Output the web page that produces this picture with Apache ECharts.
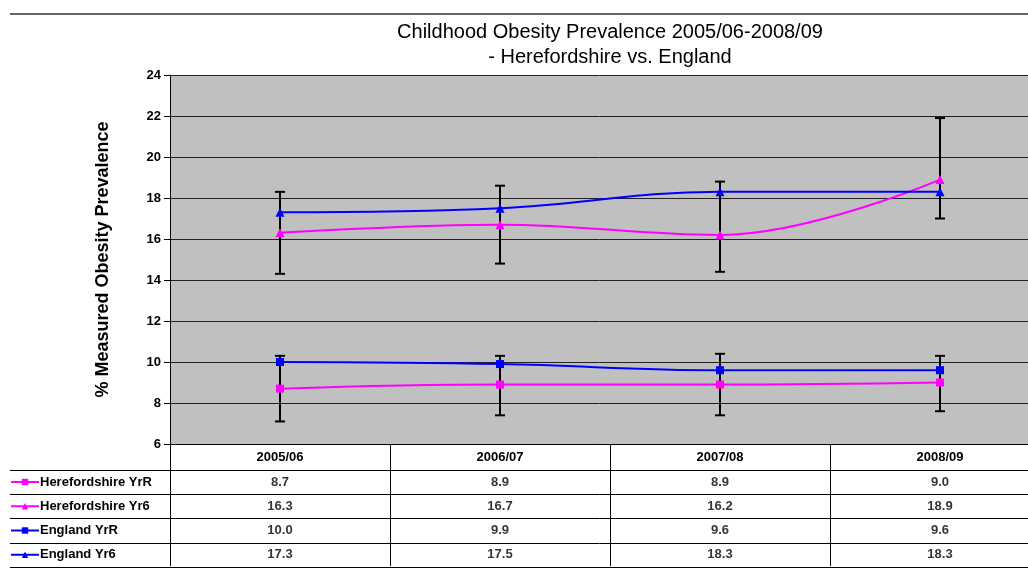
<!DOCTYPE html>
<html>
<head>
<meta charset="utf-8">
<script src="https://cdn.jsdelivr.net/npm/echarts@6/dist/echarts.min.js"></script>
<style>html,body{margin:0;padding:0;background:#fff}#c{width:1028px;height:570px}</style>
</head>
<body>
<div id="c"></div>
<script>
const categories = ['2005/06', '2006/07', '2007/08', '2008/09'];
const seriesNames = ['Herefordshire YrR', 'Herefordshire Yr6', 'England YrR', 'England Yr6'];
const herefordYrR = [8.7, 8.9, 8.9, 9.0];
const herefordYr6 = [16.3, 16.7, 16.2, 18.9];
const englandYrR = [10.0, 9.9, 9.6, 9.6];
const englandYr6 = [17.3, 17.5, 18.3, 18.3];
const herefordYrRLow = [7.1, 7.4, 7.4, 7.6];
const herefordYrRHigh = [10.3, 10.3, 10.4, 10.3];
const herefordYr6Low = [14.3, 14.8, 14.4, 17.0];
const herefordYr6High = [18.3, 18.6, 18.8, 21.9];
const yTicks = {min: 6, max: 24, interval: 2};

const FONT = 'Arial, "Liberation Sans", sans-serif';
const MAG = '#FF00FF', BLUE = '#0000FF';
const allValues = [herefordYrR, herefordYr6, englandYrR, englandYr6];
const colors = [MAG, MAG, BLUE, BLUE];
const symbols = ['rect', 'triangle', 'rect', 'triangle'];

const errData = [];
categories.forEach((c, i) => {
  errData.push([i, herefordYrRLow[i], herefordYrRHigh[i]]);
  errData.push([i, herefordYr6Low[i], herefordYr6High[i]]);
});

const tableData = [];
allValues.forEach((vals, r) => vals.forEach((v, c) => tableData.push([c, r, v])));

function renderErr(params, api) {
  const x = api.value(0);
  const lo = api.coord([x, api.value(1)]);
  const hi = api.coord([x, api.value(2)]);
  const w = 5;
  const st = {stroke: '#000', lineWidth: 2};
  return {type: 'group', children: [
    {type: 'line', shape: {x1: lo[0], y1: lo[1], x2: hi[0], y2: hi[1]}, style: st},
    {type: 'line', shape: {x1: lo[0] - w, y1: lo[1], x2: lo[0] + w, y2: lo[1]}, style: st},
    {type: 'line', shape: {x1: hi[0] - w, y1: hi[1], x2: hi[0] + w, y2: hi[1]}, style: st}
  ]};
}

const chart = echarts.init(document.getElementById('c'), null, {renderer: 'canvas'});
chart.setOption({
  backgroundColor: '#fff',
  animation: false,
  title: {
    text: 'Childhood Obesity Prevalence 2005/06-2008/09\n- Herefordshire vs. England',
    left: 605, top: 15, textAlign: 'center',
    textStyle: {fontFamily: FONT, fontSize: 20, fontWeight: 'normal', color: '#000', lineHeight: 25}
  },
  graphic: [{
    type: 'line', shape: {x1: 10, y1: 14, x2: 1028, y2: 14},
    style: {stroke: '#666', lineWidth: 2}
  }],
  legend: {
    data: seriesNames,
    orient: 'vertical', left: 10, top: 475, padding: 0,
    itemWidth: 28, itemHeight: 8, itemGap: 10.25,
    textStyle: {fontFamily: FONT, fontSize: 13, fontWeight: 'bold', color: '#000', lineHeight: 14, padding: [0, 0, 0, -4]},
    selectedMode: false
  },
  grid: [
    {left: 170, right: -22, top: 75, bottom: 126, outerBoundsMode: 'none', containLabel: false,
     backgroundColor: '#C0C0C0', show: true, borderWidth: 0},
    {left: 170, right: -22, top: 470, bottom: 3, outerBoundsMode: 'none', containLabel: false}
  ],
  xAxis: [
    {
      type: 'category', gridIndex: 0, data: categories, boundaryGap: true,
      axisLine: {lineStyle: {color: '#000', width: 1}},
      axisTick: {show: true, length: 122, interval: 0, lineStyle: {color: '#000'}},
      axisLabel: {fontFamily: FONT, fontSize: 13, fontWeight: 'bold', color: '#000', margin: 7, interval: 0},
      splitLine: {show: false}
    },
    {
      type: 'category', gridIndex: 1, data: categories, position: 'top',
      axisLine: {show: true, lineStyle: {color: '#000'}}, axisTick: {show: false}, axisLabel: {show: false}
    },
    {
      type: 'category', gridIndex: 1, data: categories, position: 'bottom',
      axisLine: {show: true, lineStyle: {color: '#000'}}, axisTick: {show: false}, axisLabel: {show: false}
    }
  ],
  yAxis: [
    {
      type: 'value', gridIndex: 0, min: yTicks.min, max: yTicks.max, interval: yTicks.interval,
      name: '% Measured Obesity Prevalence', nameLocation: 'middle', nameGap: 58,
      nameTextStyle: {fontFamily: FONT, fontSize: 18, fontWeight: 'bold', color: '#000'},
      axisLine: {show: true, lineStyle: {color: '#000', width: 1}},
      axisTick: {show: true, length: 6, lineStyle: {color: '#000'}},
      axisLabel: {fontFamily: FONT, fontSize: 13, fontWeight: 'bold', color: '#000', margin: 9},
      splitLine: {show: true, lineStyle: {color: '#222', width: 1}}
    },
    {
      type: 'category', gridIndex: 1, data: seriesNames, inverse: true,
      axisLine: {show: false},
      axisTick: {show: true, length: 160, interval: 0, lineStyle: {color: '#000'}},
      axisLabel: {show: false},
      splitLine: {show: true, interval: 0, lineStyle: {color: '#000'}}
    }
  ],
  series: [
    {
      name: 'errors', type: 'custom', xAxisIndex: 0, yAxisIndex: 0,
      renderItem: renderErr, data: errData, z: 1, silent: true
    },
    ...seriesNames.map((n, k) => ({
      name: n, type: 'line', xAxisIndex: 0, yAxisIndex: 0,
      data: allValues[k], smooth: 0.4,
      symbol: symbols[k], symbolSize: symbols[k] === 'rect' ? 8 : 9, showSymbol: true,
      itemStyle: {color: colors[k]},
      lineStyle: {color: colors[k], width: 2},
      z: 3
    })),
    {
      name: 'table', type: 'scatter', xAxisIndex: 1, yAxisIndex: 1,
      data: tableData, symbolSize: 1, itemStyle: {color: 'rgba(0,0,0,0)'}, silent: true,
      label: {
        show: true, position: 'inside',
        formatter: p => p.value[2].toFixed(1),
        fontFamily: FONT, fontSize: 13, fontWeight: 'bold', color: '#000'
      }
    }
  ]
});
</script>
</body>
</html>
